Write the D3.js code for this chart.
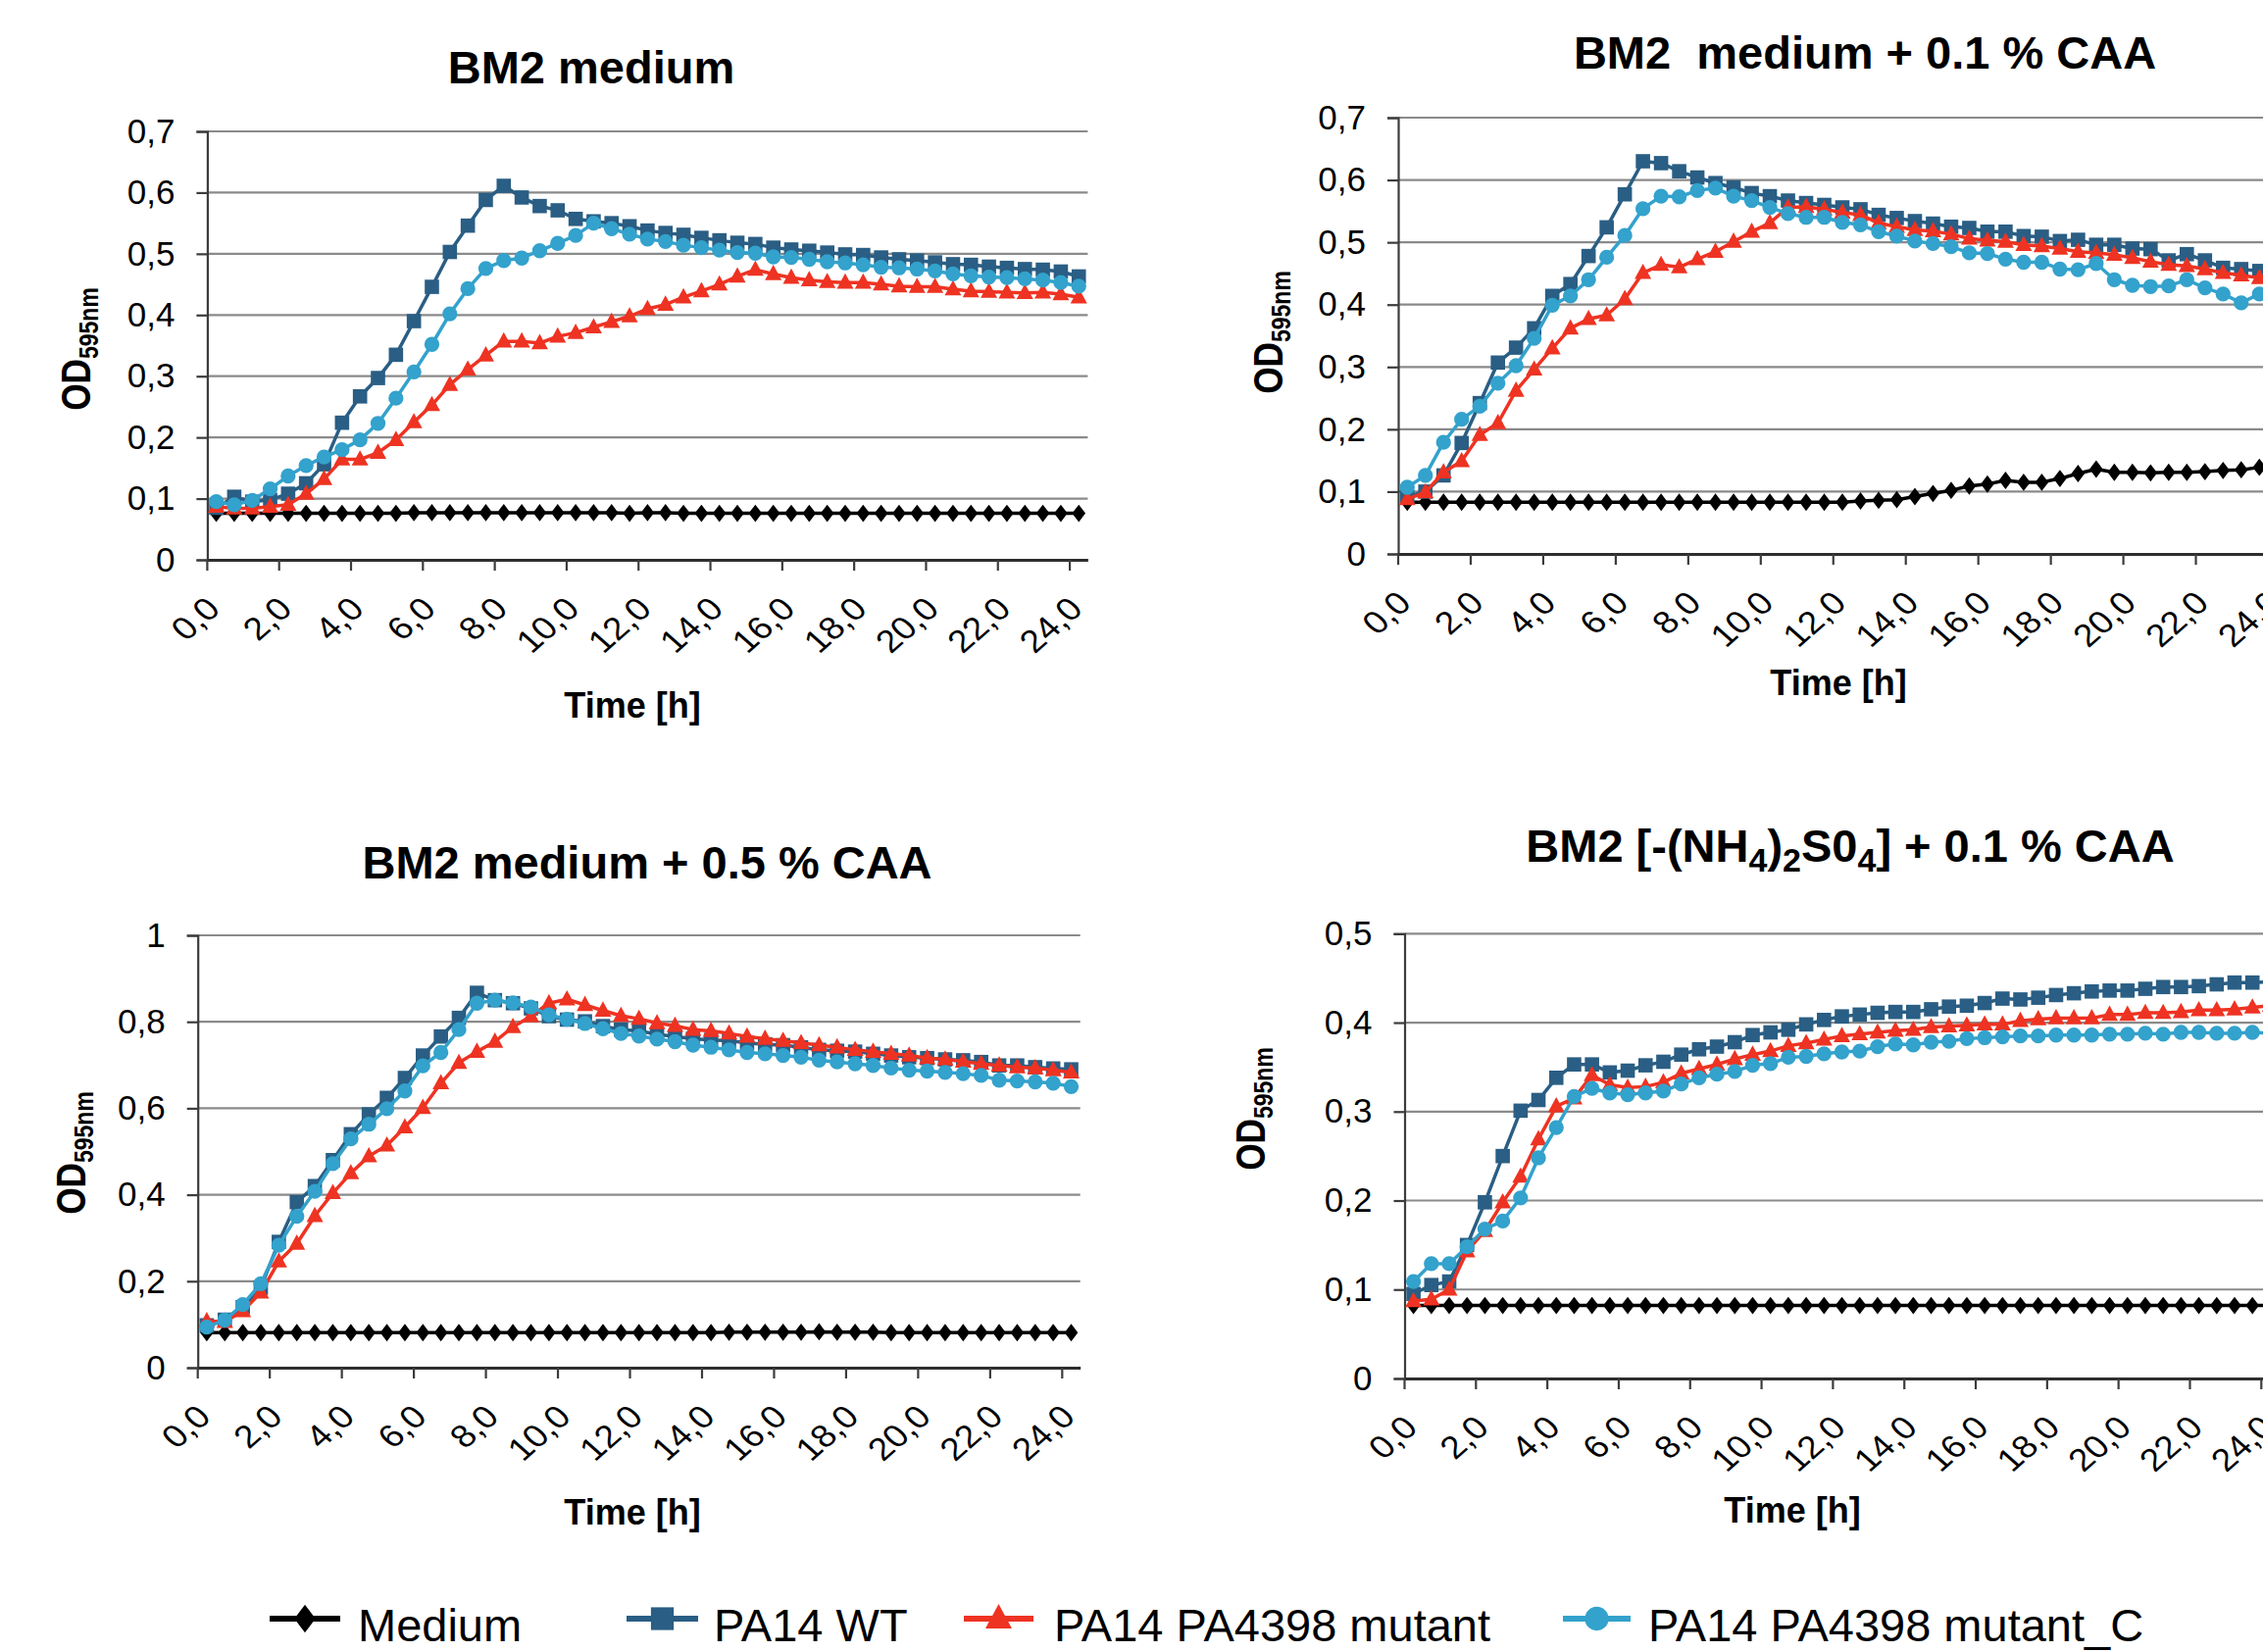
<!DOCTYPE html>
<html><head><meta charset="utf-8">
<script src="https://cdn.jsdelivr.net/npm/d3@7"></script>
<style>html,body{margin:0;padding:0;background:#fff;overflow:hidden} svg{display:block}</style>
</head><body>
<svg id="chart" width="2308" height="1685"></svg>
<script>
// ---------- DATA ----------
const times = [0,0.5,1,1.5,2,2.5,3,3.5,4,4.5,5,5.5,6,6.5,7,7.5,8,8.5,9,9.5,10,10.5,11,11.5,12,12.5,13,13.5,14,14.5,15,15.5,16,16.5,17,17.5,18,18.5,19,19.5,20,20.5,21,21.5,22,22.5,23,23.5,24];

const seriesNames = ["Medium","PA14 WT","PA14 PA4398 mutant","PA14 PA4398 mutant_C"];
const seriesColors = ["#000000","#2a5e84","#ee3322","#33a2cc"];
const seriesSymbols = ["diamond","square","triangle","circle"];

const panelTitles = ["BM2 medium","BM2\u00a0\u00a0medium + 0.1 % CAA","BM2 medium + 0.5 % CAA","BM2 [-(NH4)2S04] + 0.1 % CAA"];
const yMaxes = [0.7,0.7,1,0.5];
const ySteps = [0.1,0.1,0.2,0.1];

// Panel 1: BM2 medium
const c1_medium = [0.076,0.076,0.076,0.076,0.076,0.076,0.076,0.076,0.076,0.076,0.076,0.077,0.077,0.077,0.077,0.077,0.077,0.077,0.077,0.077,0.077,0.077,0.077,0.076,0.077,0.077,0.076,0.076,0.076,0.076,0.076,0.076,0.076,0.076,0.076,0.076,0.076,0.076,0.076,0.076,0.076,0.076,0.076,0.076,0.076,0.076,0.076,0.076,0.076];
const c1_wt = [0.085,0.103,0.095,0.098,0.108,0.125,0.156,0.224,0.267,0.297,0.335,0.39,0.446,0.503,0.546,0.588,0.611,0.592,0.578,0.571,0.557,0.553,0.55,0.545,0.538,0.534,0.531,0.526,0.522,0.518,0.516,0.51,0.507,0.505,0.502,0.499,0.498,0.494,0.491,0.489,0.486,0.483,0.482,0.479,0.477,0.475,0.474,0.471,0.463];
const c1_mut = [0.087,0.084,0.084,0.087,0.09,0.108,0.132,0.164,0.164,0.175,0.196,0.225,0.253,0.286,0.311,0.334,0.357,0.357,0.354,0.365,0.371,0.38,0.389,0.398,0.41,0.417,0.429,0.439,0.45,0.463,0.474,0.467,0.461,0.457,0.454,0.453,0.453,0.45,0.447,0.446,0.446,0.442,0.439,0.438,0.437,0.436,0.437,0.434,0.429];
const c1_mutC = [0.095,0.09,0.097,0.116,0.137,0.154,0.168,0.18,0.196,0.223,0.264,0.307,0.352,0.402,0.443,0.476,0.489,0.493,0.505,0.517,0.53,0.55,0.541,0.532,0.524,0.52,0.514,0.51,0.506,0.502,0.501,0.495,0.494,0.491,0.487,0.485,0.482,0.478,0.477,0.475,0.472,0.467,0.464,0.462,0.461,0.459,0.457,0.453,0.447];

// Panel 2: BM2 medium + 0.1 % CAA
const c2_medium = [0.083,0.083,0.083,0.083,0.083,0.083,0.083,0.083,0.083,0.083,0.083,0.083,0.083,0.083,0.083,0.083,0.083,0.083,0.083,0.083,0.083,0.083,0.083,0.083,0.083,0.085,0.086,0.087,0.092,0.097,0.102,0.109,0.112,0.118,0.115,0.115,0.121,0.129,0.136,0.131,0.131,0.130,0.131,0.131,0.132,0.134,0.135,0.139,0.142];
const c2_wt = [0.092,0.1,0.126,0.178,0.242,0.307,0.331,0.362,0.414,0.433,0.478,0.524,0.577,0.63,0.627,0.614,0.604,0.595,0.588,0.579,0.574,0.567,0.563,0.56,0.556,0.553,0.544,0.539,0.534,0.53,0.525,0.523,0.517,0.517,0.51,0.509,0.502,0.504,0.496,0.496,0.49,0.489,0.471,0.481,0.471,0.459,0.457,0.454,0.452];
const c2_mut = [0.088,0.099,0.131,0.149,0.191,0.21,0.262,0.296,0.33,0.362,0.377,0.383,0.409,0.451,0.464,0.46,0.473,0.485,0.501,0.517,0.531,0.556,0.557,0.553,0.548,0.544,0.531,0.525,0.52,0.518,0.513,0.506,0.503,0.501,0.496,0.494,0.49,0.485,0.483,0.48,0.475,0.469,0.464,0.462,0.457,0.451,0.447,0.443,0.44];
const c2_mutC = [0.107,0.126,0.179,0.216,0.237,0.274,0.302,0.346,0.399,0.414,0.44,0.476,0.511,0.554,0.574,0.573,0.583,0.587,0.574,0.567,0.556,0.546,0.54,0.54,0.532,0.528,0.517,0.51,0.502,0.498,0.493,0.483,0.482,0.473,0.468,0.468,0.457,0.456,0.466,0.44,0.431,0.429,0.43,0.44,0.427,0.417,0.403,0.417,0.415];

// Panel 3: BM2 medium + 0.5 % CAA
const c3_medium = [0.081,0.081,0.081,0.081,0.081,0.081,0.081,0.081,0.081,0.081,0.081,0.081,0.081,0.081,0.081,0.081,0.081,0.081,0.081,0.081,0.081,0.081,0.081,0.081,0.081,0.081,0.081,0.081,0.081,0.082,0.082,0.082,0.082,0.082,0.083,0.082,0.082,0.082,0.081,0.081,0.081,0.081,0.081,0.081,0.081,0.081,0.081,0.081,0.081];
const c3_wt = [0.098,0.111,0.14,0.185,0.291,0.383,0.42,0.48,0.54,0.586,0.624,0.67,0.722,0.766,0.809,0.867,0.85,0.843,0.831,0.813,0.805,0.801,0.79,0.782,0.779,0.771,0.766,0.761,0.758,0.756,0.751,0.748,0.746,0.741,0.735,0.733,0.731,0.726,0.722,0.718,0.716,0.713,0.711,0.707,0.699,0.699,0.695,0.692,0.69];
const c3_mut = [0.108,0.106,0.131,0.174,0.246,0.287,0.351,0.404,0.45,0.489,0.514,0.556,0.601,0.658,0.705,0.731,0.754,0.788,0.813,0.843,0.852,0.839,0.826,0.814,0.807,0.797,0.791,0.782,0.779,0.773,0.766,0.761,0.756,0.751,0.746,0.741,0.735,0.731,0.726,0.722,0.716,0.713,0.708,0.703,0.699,0.695,0.693,0.688,0.683];
const c3_mutC = [0.094,0.11,0.146,0.194,0.283,0.35,0.408,0.472,0.529,0.563,0.599,0.64,0.698,0.729,0.782,0.843,0.85,0.844,0.834,0.816,0.806,0.796,0.784,0.773,0.767,0.76,0.754,0.746,0.741,0.735,0.729,0.726,0.722,0.718,0.711,0.707,0.703,0.699,0.693,0.688,0.686,0.683,0.68,0.676,0.665,0.663,0.661,0.658,0.65];

// Panel 4: BM2 [-(NH4)2SO4] + 0.1 % CAA
const c4_medium = [0.082,0.082,0.082,0.082,0.082,0.082,0.082,0.082,0.082,0.082,0.082,0.082,0.082,0.082,0.082,0.082,0.082,0.082,0.082,0.082,0.082,0.082,0.082,0.082,0.082,0.082,0.082,0.082,0.082,0.082,0.082,0.082,0.082,0.082,0.082,0.082,0.082,0.082,0.082,0.082,0.082,0.082,0.082,0.082,0.082,0.082,0.082,0.082,0.082];
const c4_wt = [0.095,0.105,0.109,0.15,0.198,0.25,0.301,0.313,0.338,0.353,0.353,0.344,0.346,0.352,0.356,0.364,0.37,0.373,0.378,0.386,0.389,0.392,0.398,0.403,0.407,0.409,0.411,0.412,0.412,0.415,0.418,0.419,0.422,0.427,0.426,0.428,0.431,0.433,0.435,0.436,0.436,0.438,0.44,0.44,0.441,0.443,0.445,0.445,0.446];
const c4_mut = [0.087,0.089,0.1,0.143,0.166,0.198,0.227,0.269,0.306,0.315,0.341,0.33,0.327,0.328,0.333,0.343,0.348,0.353,0.359,0.364,0.368,0.374,0.377,0.381,0.385,0.387,0.389,0.391,0.392,0.395,0.396,0.397,0.398,0.398,0.402,0.404,0.405,0.405,0.405,0.409,0.409,0.411,0.411,0.412,0.414,0.414,0.415,0.417,0.419];
const c4_mutC = [0.109,0.129,0.129,0.148,0.168,0.177,0.203,0.248,0.282,0.317,0.326,0.321,0.319,0.321,0.323,0.331,0.338,0.342,0.345,0.352,0.354,0.361,0.362,0.365,0.367,0.368,0.373,0.376,0.375,0.378,0.379,0.382,0.383,0.384,0.385,0.385,0.386,0.386,0.386,0.387,0.387,0.388,0.387,0.389,0.389,0.388,0.388,0.389,0.388];

const panelData = [
  [c1_medium,c1_wt,c1_mut,c1_mutC],
  [c2_medium,c2_wt,c2_mut,c2_mutC],
  [c3_medium,c3_wt,c3_mut,c3_mutC],
  [c4_medium,c4_wt,c4_mut,c4_mutC]
];

// ---------- LAYOUT ----------
const FONT = "'Liberation Sans', Arial, Helvetica, sans-serif";
const layout = [
  {left:211.4, top:134, width:898, height:437, titleX:603, titleY:85, xtX:645, xtY:732, ytX:92, ytY:356},
  {left:1426, top:120, width:906, height:445, titleX:1902, titleY:70, xtX:1875, xtY:709, ytX:1308, ytY:339},
  {left:201.7, top:954, width:900, height:441, titleX:660, titleY:896, xtX:645, xtY:1555, ytX:87, ytY:1176},
  {left:1432.5, top:952.3, width:892, height:453.7, titleX:1887, titleY:879, xtX:1828, xtY:1553, ytX:1290, ytY:1131}
];

const svg = d3.select("#chart");
svg.append("rect").attr("width",2308).attr("height",1685).attr("fill","#fff");

function markerPath(type, s) {
  if (type === "diamond") {
    const w = s*0.8, h = s*1.05;
    return `M0,${-h/2}L${w/2},0L0,${h/2}L${-w/2},0Z`;
  }
  if (type === "square") {
    const a = s*0.86/2;
    return `M${-a},${-a}H${a}V${a}H${-a}Z`;
  }
  if (type === "triangle") {
    const w = s*1.0, h = s*0.92;
    return `M0,${-h*0.6}L${w/2},${h*0.4}L${-w/2},${h*0.4}Z`;
  }
  const r = s*0.45;
  return `M${r},0A${r},${r} 0 1,1 ${-r},0A${r},${r} 0 1,1 ${r},0Z`;
}

const fmt = d => {
  if (Math.abs(d) < 1e-9) return "0";
  if (Math.abs(d-1) < 1e-9) return "1";
  return d3.format(".1f")(d).replace(".", ",");
};

panelData.forEach((series, p) => {
  const L = layout[p];
  const g = svg.append("g");

  const x = d3.scaleBand().domain(times).range([L.left, L.left + L.width]).padding(0);
  const y = d3.scaleLinear().domain([0, yMaxes[p]]).range([L.top + L.height, L.top]);
  const yTicks = d3.range(0, yMaxes[p] + 1e-9, ySteps[p]).map(v => +v.toFixed(3));

  // gridlines
  g.append("g").selectAll("line").data(yTicks.filter(v => v > 0)).join("line")
    .attr("x1", L.left).attr("x2", L.left + L.width)
    .attr("y1", d => y(d)).attr("y2", d => y(d))
    .attr("stroke", "#8a8a8a").attr("stroke-width", 2.2);

  // y axis
  const yAxis = d3.axisLeft(y).tickValues(yTicks).tickFormat(fmt).tickSize(11).tickPadding(22);
  const ya = g.append("g").attr("transform", `translate(${L.left},0)`).call(yAxis);
  ya.select(".domain").attr("stroke", "#3c3c3c").attr("stroke-width", 2.2);
  ya.selectAll(".tick line").attr("stroke", "#3c3c3c").attr("stroke-width", 2.2);
  ya.selectAll(".tick text").attr("font-family", FONT).attr("font-size", 35).attr("fill", "#000");

  // x axis (category axis, ticks between categories)
  const tickCats = times.filter((t, i) => i % 4 === 0);
  const xAxis = d3.axisBottom(x).tickValues(tickCats).tickFormat(t => d3.format(".1f")(t).replace(".", ",")).tickSize(11).tickSizeOuter(0);
  const xa = g.append("g").attr("transform", `translate(0,${L.top + L.height})`).call(xAxis);
  xa.selectAll(".tick").attr("transform", d => `translate(${x(d)},0)`);
  xa.select(".domain").attr("stroke", "#2e2e2e").attr("stroke-width", 2.8);
  xa.selectAll(".tick line").attr("stroke", "#3c3c3c").attr("stroke-width", 2.2);
  xa.selectAll(".tick text")
    .attr("font-family", FONT).attr("font-size", 37).attr("fill", "#000")
    .attr("text-anchor", "end").attr("x", 0).attr("y", 0).attr("dy", 0)
    .attr("transform", "translate(15,52) scale(1,0.88) rotate(-45)");

  // series
  series.forEach((vals, s) => {
    const pts = vals.map((v, i) => [x(times[i]) + x.bandwidth()/2, y(v)]);
    g.append("path").attr("d", d3.line()(pts))
      .attr("fill", "none").attr("stroke", seriesColors[s])
      .attr("stroke-width", 3.5).attr("stroke-linejoin", "round");
    g.append("g").selectAll("path").data(pts).join("path")
      .attr("transform", d => `translate(${d[0]},${d[1]})`)
      .attr("d", markerPath(seriesSymbols[s], 17))
      .attr("fill", seriesColors[s]);
  });

  // title
  const t = g.append("text").attr("x", L.titleX).attr("y", L.titleY)
    .attr("text-anchor", "middle").attr("font-family", FONT)
    .attr("font-weight", "bold").attr("font-size", 47).attr("fill", "#000");
  if (p === 3) {
    const parts = [["BM2 [-(NH",0],["4",1],[")",0],["2",1],["S0",0],["4",1],["] + 0.1 % CAA",0]];
    let sub = false;
    parts.forEach(([txt, isSub]) => {
      const ts = t.append("tspan").text(txt);
      if (isSub && !sub) { ts.attr("font-size", 34).attr("dy", 10); sub = true; }
      else if (isSub && sub) { ts.attr("font-size", 34); }
      else if (!isSub && sub) { ts.attr("dy", -10); sub = false; }
    });
  } else {
    t.text(panelTitles[p]);
  }

  // x title
  g.append("text").attr("x", L.xtX).attr("y", L.xtY).attr("text-anchor", "middle")
    .attr("font-family", FONT).attr("font-weight", "bold").attr("font-size", 36).attr("fill", "#000")
    .text("Time [h]");

  // y title (condensed along its length like the reference)
  const yt = g.append("text").attr("transform", `translate(${L.ytX},${L.ytY}) rotate(-90) scale(0.82,1)`)
    .attr("text-anchor", "middle").attr("font-family", FONT).attr("font-weight", "bold").attr("fill", "#000");
  yt.append("tspan").attr("font-size", 43).text("OD");
  yt.append("tspan").attr("font-size", 28).attr("dy", 8).text("595nm");
});

// ---------- LEGEND ----------
const legendItems = [
  {lineX1:275, lineX2:347, textX:365},
  {lineX1:639, lineX2:712, textX:728},
  {lineX1:983, lineX2:1054, textX:1075},
  {lineX1:1594, lineX2:1663, textX:1681}
];
const legY = 1651;
const lg = svg.append("g");
seriesNames.forEach((name, s) => {
  const it = legendItems[s];
  lg.append("line").attr("x1", it.lineX1).attr("x2", it.lineX2).attr("y1", legY).attr("y2", legY)
    .attr("stroke", seriesColors[s]).attr("stroke-width", 6);
  lg.append("path").attr("transform", `translate(${(it.lineX1+it.lineX2)/2},${legY})`)
    .attr("d", markerPath(seriesSymbols[s], 27)).attr("fill", seriesColors[s]);
  lg.append("text").attr("x", it.textX).attr("y", legY + 23)
    .attr("font-family", FONT).attr("font-size", 47).attr("fill", "#000").text(name);
});
</script>
</body></html>
